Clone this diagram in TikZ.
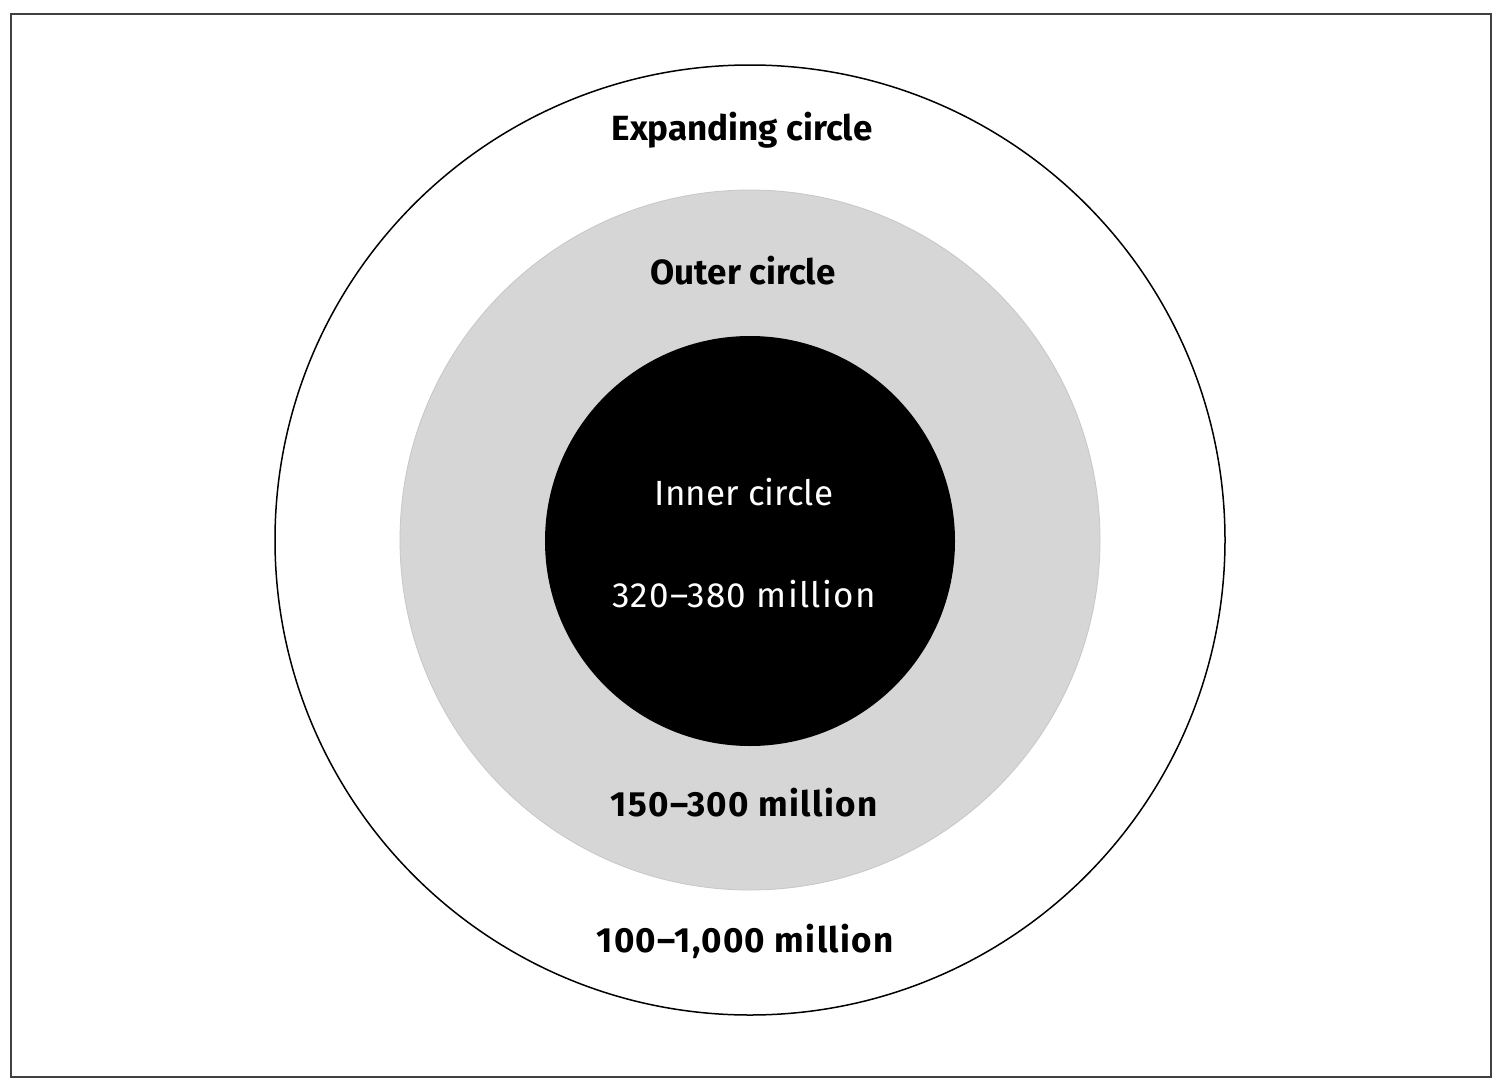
\documentclass[tikz,border=0pt]{standalone}
\usepackage{fontspec}
\setmainfont{Fira Sans}
\begin{document}
\begin{tikzpicture}[x=1pt,y=-1pt,
  lbl/.style={font=\fontsize{35}{40}\selectfont\bfseries, text=black, inner sep=0pt},
  wlbl/.style={font=\fontsize{35}{40}\selectfont, text=white, inner sep=0pt},
  nums/.style={font=\fontsize{35}{40}\selectfont\bfseries\addfontfeature{LetterSpace=3.7}},
  wnums/.style={font=\fontsize{35}{40}\selectfont\addfontfeature{LetterSpace=3.7}}]
\useasboundingbox (0,0) rectangle (1497,1084);
\fill[white] (0,0) rectangle (1497,1084);
\draw[line width=2.5pt, black!75] (11,14) rectangle (1491,1077);
\node[circle, draw=black, line width=1.5pt, fill=white, minimum size=950pt, inner sep=0pt] (expanding) at (750,540) {};
\node[circle, fill=black!16, draw=black!22, line width=0.8pt, minimum size=700pt, inner sep=0pt] (outer) at (750,540) {};
\node[circle, fill=black, minimum size=410pt, inner sep=0pt] (inner) at (750,541) {};
\node[lbl] (t1) at (742,130) {Expanding circle};
\node[lbl] (t2) at (743,271) {Outer circle};
\node[wlbl] (t3) at (744,492) {Inner circle};
\node[wlbl, wnums] (t4) at (744,594) {320–380 million};
\node[lbl, nums] (t5) at (744,803) {150–300 million};
\node[lbl, nums] (t6) at (745,941) {100–1,000 million};
\end{tikzpicture}
\end{document}
